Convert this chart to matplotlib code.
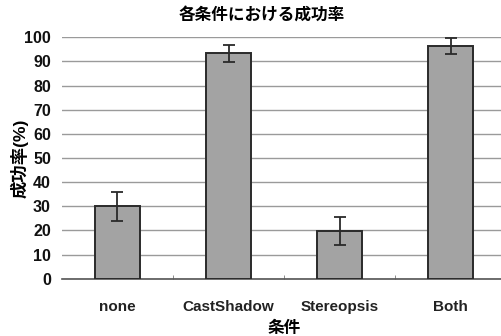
import numpy as np
import matplotlib
matplotlib.use('Agg')
import matplotlib.pyplot as plt

plt.rcParams['font.family'] = ['Liberation Sans', 'Noto Sans CJK JP', 'DejaVu Sans']

# success rate per condition
conditions = ['none', 'CastShadow', 'Stereopsis', 'Both']
rates = [30.0, 93.3, 19.6, 96.4]
errors = [5.9, 3.4, 5.8, 3.4]

fig = plt.figure(figsize=(5.02, 3.36), dpi=100)
ax = fig.add_axes([0.1235, 0.1705, 0.8845, 0.7185])

x = np.arange(len(conditions))
ax.bar(x, rates, 0.4, color='#a3a3a3', edgecolor='#2a2a2a', linewidth=1.4,
       yerr=errors, capsize=4, error_kw={'ecolor': '#2a2a2a', 'elinewidth': 1.3, 'capthick': 1.3},
       zorder=3)

ax.set_xlim(-0.5, 3.5)
ax.set_ylim(0, 100)
ax.set_yticks(range(0, 101, 10))
ax.yaxis.grid(True, color='#9a9a9a', linewidth=1.0, zorder=0)
ax.set_axisbelow(True)

ax.set_xticks(x)
ax.set_xticklabels(conditions, fontsize=11, fontweight='bold', color='#222222')
ax.set_xticks([0.5, 1.5, 2.5], minor=True)
ax.tick_params(axis='x', which='major', length=0, pad=15)
ax.tick_params(axis='x', which='minor', direction='in', length=3, color='#777777')
ax.tick_params(axis='y', length=0, pad=8, labelsize=11.5, labelcolor='#111111')
for lab in ax.get_yticklabels():
    lab.set_fontweight('bold')

for s in ['top', 'right', 'left']:
    ax.spines[s].set_visible(False)
ax.spines['bottom'].set_color('#555555')
ax.spines['bottom'].set_linewidth(1.2)

fig.text(262 / 502, 1 - 15 / 336, '各条件における成功率', fontsize=12, fontweight='bold',
         ha='center', va='center')
ax.set_xlabel('条件', fontsize=12, fontweight='bold', labelpad=5)
fig.text(20 / 502, 1 - 158 / 336, '成功率(%)', fontsize=12.5, fontweight='bold',
         rotation=90, ha='center', va='center')

plt.savefig('out.png', dpi=100)
plt.close()
